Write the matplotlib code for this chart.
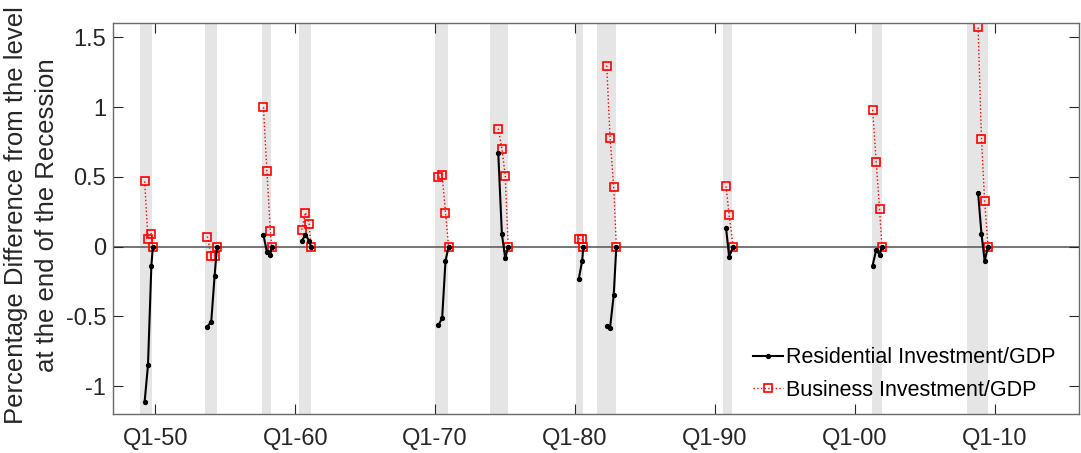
import numpy as np
import matplotlib
matplotlib.use("Agg")
import matplotlib.pyplot as plt

plt.rcParams['font.family'] = ['Liberation Sans', 'DejaVu Sans']
plt.rcParams['axes.unicode_minus'] = False

# recession bands (decimal years, start/end)
rec_start = [1948.88, 1953.55, 1957.63, 1960.30, 1969.98, 1973.91,
             1980.06, 1981.57, 1990.58, 2001.24, 2008.01]
rec_end = [1949.79, 1954.38, 1958.30, 1961.11, 1970.89, 1975.20,
           1980.54, 1982.90, 1991.22, 2001.90, 2009.48]

# quarters leading up to the end of each recession
dates = [
    [1949.24, 1949.48, 1949.72, 1949.83],
    [1953.72, 1954.00, 1954.24, 1954.41],
    [1957.73, 1957.98, 1958.22, 1958.32],
    [1960.47, 1960.73, 1960.99, 1961.13],
    [1970.24, 1970.50, 1970.74, 1970.96],
    [1974.51, 1974.77, 1975.01, 1975.22],
    [1980.26, 1980.51, 1980.59],
    [1982.26, 1982.50, 1982.76, 1982.95],
    [1990.79, 1991.01, 1991.30],
    [2001.26, 2001.52, 2001.76, 2001.93],
    [2008.80, 2009.04, 2009.27, 2009.51],
]
residential = [
    [-1.113, -0.849, -0.139, 0],
    [-0.574, -0.538, -0.210, 0],
    [0.084, -0.041, -0.060, 0],
    [0.041, 0.084, 0.043, 0],
    [-0.562, -0.514, -0.103, 0],
    [0.670, 0.089, -0.083, 0],
    [-0.234, -0.100, 0],
    [-0.567, -0.581, -0.349, 0],
    [0.132, -0.074, 0],
    [-0.136, -0.024, -0.060, 0],
    [0.385, 0.093, -0.103, 0],
]
business = [
    [0.467, 0.055, 0.093, 0],
    [0.072, -0.065, -0.065, 0],
    [0.998, 0.538, 0.115, 0],
    [0.120, 0.244, 0.165, 0],
    [0.495, 0.515, 0.244, 0],
    [0.845, 0.701, 0.508, 0],
    [0.055, 0.055, 0],
    [1.297, 0.780, 0.424, 0],
    [0.431, 0.223, 0],
    [0.981, 0.608, 0.266, 0],
    [1.570, 0.773, 0.323, 0],
]

tick_years = list(range(1950, 2011, 10))
tick_labels = ['Q1-%02d' % (y % 100) for y in tick_years]

fig = plt.figure(figsize=(10.81, 4.53), dpi=100)
ax = fig.add_axes([0.1048, 0.0861, 0.8932, 0.8625])

for s, e in zip(rec_start, rec_end):
    ax.axvspan(s, e, color='#e5e5e5', lw=0, zorder=0)

ax.axhline(0, color='#6a6a6a', lw=1.3, zorder=1)

for i in range(len(dates)):
    ax.plot(dates[i], residential[i], '-', color='k', lw=1.5, marker='o',
            ms=2.8, label='Residential Investment/GDP' if i == 0 else None, zorder=3)
    ax.plot(dates[i], business[i], ':', color='red', lw=1.0, marker='s',
            ms=5.5, mfc='none', mec='red', mew=1.2,
            label='Business Investment/GDP' if i == 0 else None, zorder=2)

ax.set_xlim(1947, 2016)
ax.set_ylim(-1.2, 1.6)
ax.set_xticks(tick_years)
ax.set_xticklabels(tick_labels)
ax.set_yticks([-1, -0.5, 0, 0.5, 1, 1.5])
ax.set_yticklabels(['-1', '-0.5', '0', '0.5', '1', '1.5'])

for sp in ax.spines.values():
    sp.set_color('#6a6a6a')
    sp.set_linewidth(1.0)
ax.tick_params(direction='in', length=7, width=0.8, color='#262626',
               top=True, right=True, labelsize=17, labelcolor='#262626')
ax.tick_params(axis='y', pad=5)
ax.tick_params(axis='x', pad=10)

ax.set_ylabel('Percentage Difference from the level\nat the end of the Recession',
              fontsize=18.5, color='#262626', linespacing=1.38)
ax.yaxis.set_label_coords(-0.0565, 0.509)

leg = ax.legend(loc='center left', bbox_to_anchor=(753 / 1081, 1 - 374 / 453),
                bbox_transform=fig.transFigure, frameon=False, fontsize=15.5,
                handlelength=1.4, handletextpad=0.15, borderpad=0,
                borderaxespad=0, labelspacing=0.55)

fig.savefig('out.png', dpi=100)
